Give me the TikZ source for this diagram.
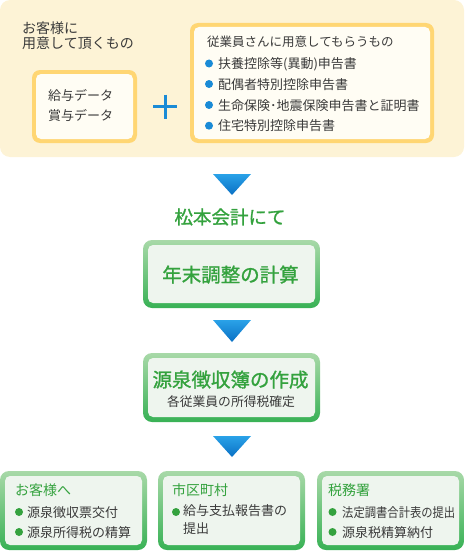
\documentclass[tikz,border=0pt]{standalone}
\usepackage{fontspec}
\setmainfont{Noto Sans CJK JP}
\newfontfamily\jpmed[FakeBold=1.2]{Noto Sans CJK JP}
\usepackage{graphicx}
\usepackage{tikz}
\usetikzlibrary{calc}
\definecolor{cream}{HTML}{FDF3D6}
\definecolor{ybord}{HTML}{FFD673}
\definecolor{yfill}{HTML}{FFFDF4}
\definecolor{blue2}{HTML}{1A8BD6}
\definecolor{tritop}{HTML}{2AA2E8}
\definecolor{tribot}{HTML}{0A70C4}
\definecolor{green2}{HTML}{34A23E}
\definecolor{glight}{HTML}{A8D9A8}
\definecolor{gdark}{HTML}{38B155}
\definecolor{gfill}{HTML}{EEF5EE}
\definecolor{ink}{HTML}{3A3A3A}

\begin{document}
\begin{tikzpicture}[
    x=1pt, y=-1pt,
    panel/.style={fill=cream, rounded corners=10pt, inner sep=0pt},
    ybox/.style={rounded corners=8pt, fill=ybord, inner sep=0pt,
      path picture={\fill[yfill, rounded corners=5pt]
        ([shift={(4pt,-4pt)}]path picture bounding box.north west) rectangle
        ([shift={(-4pt,4pt)}]path picture bounding box.south east);}},
    gbox/.style={rounded corners=9pt, top color=glight, bottom color=gdark, inner sep=0pt,
      path picture={\fill[gfill, rounded corners=5pt]
        ([shift={(5pt,-5pt)}]path picture bounding box.north west) rectangle
        ([shift={(-5pt,5pt)}]path picture bounding box.south east);}},
    tri/.style={top color=tritop, bottom color=tribot},
    txt/.style={anchor=base west, inner sep=0pt, text=ink, font=\fontsize{13pt}{15pt}\selectfont},
    head/.style={anchor=base, inner sep=0pt, text=green2, font=\jpmed\fontsize{19.5pt}{22pt}\selectfont},
    htxt/.style={anchor=base west, inner sep=0pt, text=green2, font=\fontsize{14pt}{16pt}\selectfont}
  ]
    \useasboundingbox (0,0) rectangle (464,551);

    % what the client and the staff hand in
    \node[panel, minimum width=464pt, minimum height=157pt] (need) at (232,78.5) {};
    \node[txt, anchor=north west, align=left, font=\fontsize{14pt}{15pt}\selectfont] (client) at (22,22) {お客様に\\用意して頂くもの};
    \node[ybox, minimum width=105pt, minimum height=73pt] (pay) at (84.5,106.5) {};
    \node[txt] (pay1) at (48,100) {給与データ};
    \node[txt] (pay2) at (48,120) {賞与データ};
    \draw[blue2, line width=3pt] (153,106.5) -- (177,106.5) (165,94.5) -- (165,118.5);
    \node[ybox, minimum width=244pt, minimum height=120pt] (staff) at (312,83) {};
    \node[txt, font=\fontsize{12.5pt}{15pt}\selectfont] (stafft) at (207,46.5) {従業員さんに用意してもらうもの};
    \foreach \y/\t [count=\i] in {63.5/扶養控除等(異動)申告書, 84/配偶者特別控除申告書,
        105/生命保険･地震保険申告書と証明書, 125.7/住宅特別控除申告書} {
      \fill[blue2] (209,\y) circle[radius=4pt];
      \node[txt] (form\i) at (218,\y+5) {\t};
    }

    % flow
    \coordinate (t1) at (232,174);
    \shade[tri] (t1) -- ++(19,0) -- ++(-19,21) -- ++(-19,-21) -- cycle;
    \node[head, font=\jpmed\fontsize{18.5pt}{20pt}\selectfont] (office) at (230,224) {松本会計にて};
    \node[gbox, minimum width=177pt, minimum height=68pt] (calc) at (231.5,274) {};
    \node[head] (calct) at (230.5,282) {年末調整の計算};
    \coordinate (t2) at (232,320);
    \shade[tri] (t2) -- ++(19,0) -- ++(-19,22) -- ++(-19,-22) -- cycle;
    \node[gbox, minimum width=177pt, minimum height=69pt] (book) at (231.5,387.5) {};
    \node[head] (bookt) at (230.5,387) {源泉徴収簿の作成};
    \node[head, text=ink, font=\fontsize{12.8pt}{15pt}\selectfont] (books) at (231,406.5) {各従業員の所得税確定};
    \coordinate (t3) at (232,436);
    \shade[tri] (t3) -- ++(19,0) -- ++(-19,21) -- ++(-19,-21) -- cycle;

    % where the results go
    \node[gbox, minimum width=147pt, minimum height=79pt] (cust) at (73.5,510.5) {};
    \node[gbox, minimum width=147pt, minimum height=79pt] (city) at (231.5,510.5) {};
    \node[gbox, minimum width=147pt, minimum height=79pt] (tax) at (390.5,510.5) {};
    \node[htxt] (custt) at (15,495.5) {お客様へ};
    \node[htxt] (cityt) at (172,495.5) {市区町村};
    \node[htxt] (taxt) at (328,495.5) {税務署};
    \foreach \x in {19,176,332.5} \fill[green2] (\x,512) circle[radius=4pt];
    \foreach \x in {19,332.5} \fill[green2] (\x,532) circle[radius=4pt];
    \node[txt] (cust1) at (27,517) {源泉徴収票交付};
    \node[txt] (cust2) at (27,537) {源泉所得税の精算};
    \node[txt, anchor=north west, align=left, font=\fontsize{13pt}{18pt}\selectfont] (city1) at (183,504.5) {給与支払報告書の\\提出};
    \node[txt] (tax1) at (342,517) {\scalebox{0.87}[1]{法定調書合計表の提出}};
    \node[txt] (tax2) at (342,537) {源泉税精算納付};
  \end{tikzpicture}
\end{document}
